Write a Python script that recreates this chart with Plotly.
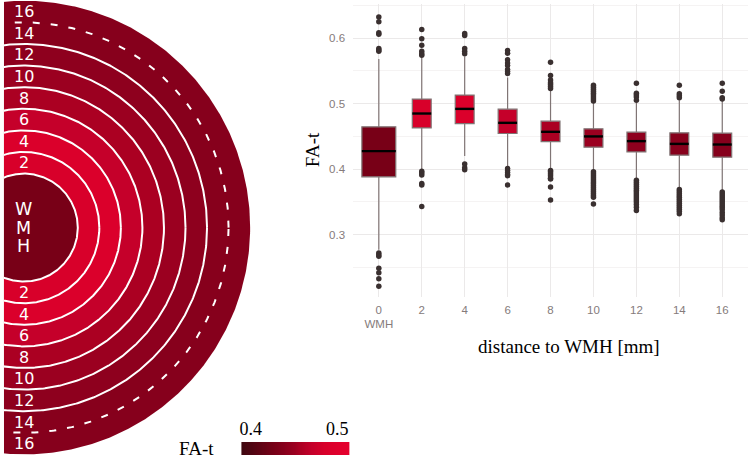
import numpy as np
import plotly.graph_objects as go
from plotly.colors import sample_colorscale

# ---------------- data ----------------
distance = [0, 2, 4, 6, 8, 10, 12, 14, 16]
tick_labels = ["0<br>WMH", "2", "4", "6", "8", "10", "12", "14", "16"]
ring_labels = ["WMH", "2", "4", "6", "8", "10", "12", "14", "16"]
q1 = [0.3883, 0.4630, 0.4696, 0.4544, 0.4421, 0.4336, 0.4264, 0.4214, 0.4183]
median = [0.4275, 0.4849, 0.4920, 0.4707, 0.4570, 0.4500, 0.4428, 0.4386, 0.4376]
q3 = [0.4646, 0.5069, 0.5130, 0.4916, 0.4733, 0.4615, 0.4565, 0.4554, 0.4550]
lowerfence = [0.277, 0.400, 0.420, 0.402, 0.400, 0.398, 0.385, 0.371, 0.367]
upperfence = [0.568, 0.570, 0.572, 0.540, 0.521, 0.502, 0.501, 0.505, 0.504]
outliers = [
    [0.632, 0.625, 0.608, 0.606, 0.584, 0.582, 0.580, 0.272, 0.2695, 0.267, 0.249, 0.242, 0.233, 0.2215],
    [0.613, 0.599, 0.589, 0.580, 0.576, 0.574, 0.397, 0.394, 0.391, 0.378, 0.376, 0.343],
    [0.607, 0.604, 0.584, 0.580, 0.576, 0.408, 0.402, 0.399],
    [0.581, 0.577, 0.567, 0.562, 0.558, 0.552, 0.549, 0.546, 0.401, 0.398, 0.395, 0.392, 0.390, 0.376],
    [0.563, 0.543, 0.536, 0.532, 0.529, 0.526, 0.523, 0.398, 0.396, 0.393, 0.390, 0.386, 0.385, 0.373, 0.353],
    [0.528, 0.525, 0.522, 0.519, 0.516, 0.513, 0.510, 0.507, 0.504,
     0.396, 0.393, 0.390, 0.387, 0.384, 0.381, 0.378, 0.375, 0.372, 0.369, 0.366, 0.363, 0.360, 0.357, 0.347],
    [0.531, 0.516, 0.513, 0.510, 0.505,
     0.383, 0.380, 0.377, 0.374, 0.371, 0.368, 0.365, 0.362, 0.359, 0.356, 0.353, 0.350, 0.346, 0.342, 0.337],
    [0.528, 0.515, 0.512, 0.509,
     0.369, 0.366, 0.363, 0.360, 0.357, 0.354, 0.351, 0.348, 0.345, 0.342, 0.339, 0.336, 0.332],
    [0.531, 0.519, 0.509, 0.507,
     0.365, 0.362, 0.359, 0.356, 0.353, 0.350, 0.347, 0.344, 0.341, 0.338, 0.334, 0.330, 0.326, 0.323],
]
color_min, color_max = 0.389, 0.514
colorbar_ticks = [0.4, 0.5]

# ---------------- styles ----------------
W, H = 752, 460
colorscale = [
    [0.00, "#3e0810"], [0.30, "#770017"], [0.39, "#86001c"], [0.49, "#9b0020"],
    [0.54, "#aa0022"], [0.65, "#c4002a"], [0.77, "#d8002a"], [1.00, "#e6002e"],
]
def fa_color(v):
    return sample_colorscale(colorscale, [(v - color_min) / (color_max - color_min)])[0]

whisker_color = "#807575"
point_color = "#3a3030"
tick_color = "#857b7b"
serif = "Liberation Serif"
sans = "Liberation Sans"
box_widths = [1.58] + [0.88] * 8

def px(x):
    return x / W
def py(y):
    return 1 - y / H

fig = go.Figure()

# ---------------- left: ring diagram ----------------
unit = 21.6          # pixels per radial unit
cx_px, cy_px = 22.0, 227.6
wmh_radius = 2.5
theta = np.linspace(0, 2 * np.pi, 721)
n = len(ring_labels)
for i in reversed(range(n)):
    r = wmh_radius + i
    if i == n - 1:
        line = dict(width=0, color="rgba(0,0,0,0)")
    elif i == n - 2:
        line = dict(width=2, color="white", dash="7px,11px")
    else:
        line = dict(width=2, color="white")
    fig.add_trace(go.Scatter(
        x=r * np.cos(theta), y=r * np.sin(theta), mode="lines", fill="toself",
        fillcolor=fa_color(median[i]), line=line, hoverinfo="skip",
        xaxis="x", yaxis="y"))

annotations = []
for i in range(1, n):
    rm = wmh_radius + i - 0.5
    for s in (1, -1):
        annotations.append(dict(x=0, y=s * rm, xref="x", yref="y", text=ring_labels[i],
                                xanchor="center", yanchor="middle", showarrow=False,
                                font=dict(family="DejaVu Sans", size=16, color="white")))
for k, ch in enumerate(ring_labels[0]):
    annotations.append(dict(x=0, y=(1 - k) * 0.86, xref="x", yref="y", text=ch, showarrow=False,
                            xanchor="center", yanchor="middle",
                            font=dict(family="DejaVu Sans", size=17.5, color="white")))

# ---------------- right: box plot ----------------
for i, d in enumerate(distance):
    fig.add_trace(go.Box(
        x=[d], q1=[q1[i]], median=[median[i]], q3=[q3[i]],
        lowerfence=[lowerfence[i]], upperfence=[upperfence[i]],
        width=box_widths[i], fillcolor=fa_color(median[i]),
        line=dict(color=whisker_color, width=1.2), whiskerwidth=0,
        boxpoints=False, hoverinfo="skip", xaxis="x2", yaxis="y2"))

mx, my = [], []
for i, d in enumerate(distance):
    mx += [d - box_widths[i] / 2, d + box_widths[i] / 2, None]
    my += [median[i], median[i], None]
fig.add_trace(go.Scatter(x=mx, y=my, mode="lines", line=dict(color="black", width=2.4),
                         hoverinfo="skip", xaxis="x2", yaxis="y2"))

ox, oy = [], []
for i, d in enumerate(distance):
    ox += [d] * len(outliers[i])
    oy += outliers[i]
fig.add_trace(go.Scatter(x=ox, y=oy, mode="markers",
                         marker=dict(color=point_color, size=5.5, line=dict(width=0)),
                         hoverinfo="skip", xaxis="x2", yaxis="y2"))

# ---------------- colour bar ----------------
grad = np.linspace(color_min, color_max, 200)
fig.add_trace(go.Heatmap(x=grad, y=[0.5], z=[grad], colorscale=colorscale,
                         zmin=color_min, zmax=color_max, showscale=False,
                         hoverinfo="skip", xaxis="x3", yaxis="y3"))

title_font = dict(family=serif, size=19, color="black")
annotations += [
    dict(x=px(311), y=py(150), xref="paper", yref="paper", text="FA-t", textangle=-90,
         xanchor="center", yanchor="middle", showarrow=False, font=title_font),
    dict(x=px(569), y=py(346), xref="paper", yref="paper", text="distance to WMH [mm]",
         xanchor="center", yanchor="middle", showarrow=False, font=title_font),
    dict(x=px(195), y=py(448), xref="paper", yref="paper", text="FA-t",
         xanchor="center", yanchor="middle", showarrow=False, font=title_font),
]

fig.update_layout(
    width=W, height=H, margin=dict(l=0, r=0, t=0, b=0),
    paper_bgcolor="white", plot_bgcolor="white", showlegend=False,
    annotations=annotations,
    xaxis=dict(domain=[px(2), px(250)], range=[(2 - cx_px) / unit, (250 - cx_px) / unit],
               visible=False, fixedrange=True),
    yaxis=dict(domain=[0, 1], range=[-(H - cy_px) / unit, cy_px / unit],
               visible=False, fixedrange=True),
    xaxis2=dict(domain=[px(352), px(748)], range=[-1.2, 17.2], anchor="y2",
                tickvals=distance, ticktext=tick_labels, showgrid=True,
                gridcolor="#ebe9e9", gridwidth=1, zeroline=False, showline=False,
                ticks="", ticklabelstandoff=4,
                tickfont=dict(family=sans, size=11.5, color=tick_color)),
    yaxis2=dict(domain=[py(297), py(4)], range=[0.205, 0.652], anchor="x2",
                tickvals=[0.3, 0.4, 0.5, 0.6], ticktext=["0.3", "0.4", "0.5", "0.6"],
                showgrid=True, gridcolor="#ebe9e9", gridwidth=1, zeroline=False,
                showline=False, ticks="", ticklabelstandoff=7,
                minor=dict(tickvals=[0.25, 0.35, 0.45, 0.55, 0.65], showgrid=True,
                           gridcolor="#f5f3f3", gridwidth=1),
                tickfont=dict(family=sans, size=11.5, color=tick_color)),
    xaxis3=dict(domain=[px(240), px(348.3)], range=[color_min, color_max], anchor="y3",
                side="top", tickvals=colorbar_ticks, ticktext=["0.4", "0.5"],
                showgrid=False, zeroline=False, showline=False, ticks="",
                ticklabelstandoff=2,
                tickfont=dict(family=serif, size=18, color="black"), fixedrange=True),
    yaxis3=dict(domain=[py(455), py(442)], range=[0, 1], anchor="x3", visible=False,
                fixedrange=True),
)

fig.write_html("out.html", config={"displayModeBar": False},
               post_script="document.body.style.margin='0';document.body.style.overflow='hidden';")
